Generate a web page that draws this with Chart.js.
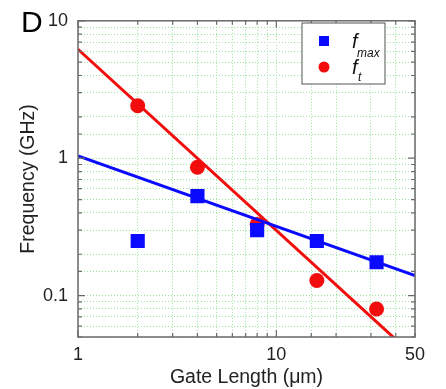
<!DOCTYPE html>
<html>
<head>
  <title>Frequency vs Gate Length</title>
  <script src="https://cdn.jsdelivr.net/npm/chart.js"></script>
  <style>
    body{
        margin:0px;
        padding:0px;
        background-color:white;
    }
    #wrap{
        width:446px;
        height:389px;
        position:relative;
    }
  </style>
</head>
<body>
<div id="wrap">
  <canvas id="chart" width="446" height="389"></canvas>
</div>
<script>
  // gate length (um)
  var gateLength = [2, 4, 8, 16, 32];
  // measured points (GHz)
  var fmax = [0.25, 0.53, 0.30, 0.25, 0.175];
  var ft = [2.41, 0.86, 0.33, 0.129, 0.080];
  // fitted lines, end points
  var fmaxFitX = [1, 50];
  var fmaxFitY = [1.04, 0.14];
  var ftFitX = [1, 40];
  var ftFitY = [6.2, 0.048];
  // axis labels shown
  var xLabels = [1, 10, 50];
  var yLabels = [0.1, 1, 10];

  var FONT = "'Liberation Sans', Arial, sans-serif";
  var BLUE = '#0a0aff';
  var RED = '#f20d0d';

  function pts(xs, ys){
    return xs.map(function(x, i){ return {x: x, y: ys[i]}; });
  }
  function isMajor(v, list){
    return list.some(function(l){ return Math.abs(l - v) < 1e-9 * l; });
  }

  // frame, inner ticks, letter and legend
  var decor = {
    id: 'decor',
    afterDraw: function(chart){
      var ctx = chart.ctx;
      var a = chart.chartArea;
      var xs = chart.scales.x, ys = chart.scales.y;
      ctx.save();
      ctx.strokeStyle = '#6a6a6a';
      ctx.lineWidth = 1.2;
      xs.ticks.forEach(function(t){
        var px = xs.getPixelForValue(t.value);
        var len = isMajor(t.value, [1, 10]) ? 7 : 4;
        ctx.beginPath();
        ctx.moveTo(px, a.bottom); ctx.lineTo(px, a.bottom - len);
        ctx.moveTo(px, a.top); ctx.lineTo(px, a.top + len);
        ctx.stroke();
      });
      ys.ticks.forEach(function(t){
        var py = ys.getPixelForValue(t.value);
        var len = isMajor(t.value, [0.1, 1, 10]) ? 7 : 4;
        ctx.beginPath();
        ctx.moveTo(a.left, py); ctx.lineTo(a.left + len, py);
        ctx.moveTo(a.right, py); ctx.lineTo(a.right - len, py);
        ctx.stroke();
      });
      ctx.lineWidth = 1.5;
      ctx.strokeRect(a.left, a.top, a.right - a.left, a.bottom - a.top);

      // panel letter
      ctx.fillStyle = '#000';
      ctx.font = '30px ' + FONT;
      ctx.textBaseline = 'alphabetic';
      ctx.fillText('D', 21, 32);

      // legend box
      ctx.fillStyle = '#fff';
      ctx.fillRect(302, 23, 83, 61);
      ctx.strokeStyle = '#555';
      ctx.lineWidth = 1;
      ctx.strokeRect(302, 23, 83, 61);
      ctx.fillStyle = BLUE;
      ctx.fillRect(319, 36, 10, 10);
      ctx.fillStyle = RED;
      ctx.beginPath();
      ctx.arc(324, 67, 5.5, 0, Math.PI * 2);
      ctx.fill();
      ctx.fillStyle = '#111';
      ctx.font = 'italic 20px ' + FONT;
      ctx.fillText('f', 352, 48);
      ctx.fillText('f', 352, 74);
      ctx.font = 'italic 12px ' + FONT;
      ctx.fillText('max', 357, 57);
      ctx.fillText('t', 358, 81);
      ctx.restore();
    }
  };

  var ctx = document.getElementById('chart').getContext('2d');
  var chart = new Chart(ctx, {
    type: 'scatter',
    data: {
      datasets: [{
        label: 'fmax fit',
        data: pts(fmaxFitX, fmaxFitY),
        showLine: true,
        borderColor: BLUE,
        borderWidth: 3,
        pointRadius: 0,
        fill: false
      }, {
        label: 'ft fit',
        data: pts(ftFitX, ftFitY),
        showLine: true,
        borderColor: RED,
        borderWidth: 3,
        pointRadius: 0,
        fill: false
      }, {
        label: 'fmax',
        data: pts(gateLength, fmax),
        pointStyle: 'rect',
        pointRadius: 10,
        backgroundColor: BLUE,
        borderColor: BLUE,
        borderWidth: 0
      }, {
        label: 'ft',
        data: pts(gateLength, ft),
        pointStyle: 'circle',
        pointRadius: 7.5,
        backgroundColor: RED,
        borderColor: RED,
        borderWidth: 0
      }]
    },
    options: {
      responsive: false,
      animation: false,
      maintainAspectRatio: false,
      devicePixelRatio: 1,
      layout: { padding: { left: 0, top: 15, right: 31, bottom: 0 } },
      plugins: {
        legend: { display: false },
        tooltip: { enabled: false }
      },
      scales: {
        x: {
          type: 'logarithmic',
          min: 1,
          max: 50,
          afterFit: function(s){ s.height = 52; },
          border: { display: false, dash: [1, 2] },
          grid: { color: '#9ce49c', lineWidth: 1, drawTicks: false },
          ticks: {
            autoSkip: false,
            maxRotation: 0,
            padding: 7,
            color: '#222',
            font: { family: FONT, size: 18 },
            callback: function(v){ return isMajor(v, xLabels) ? String(v) : ''; }
          },
          title: {
            display: true,
            text: 'Gate Length (\u03bcm)',
            color: '#222',
            font: { family: FONT, size: 19.5 },
            padding: { top: 0, bottom: 0 }
          }
        },
        y: {
          type: 'logarithmic',
          min: 0.05,
          max: 10,
          afterFit: function(s){ s.width = 78; },
          border: { display: false, dash: [1, 2] },
          grid: { color: '#9ce49c', lineWidth: 1, drawTicks: false },
          ticks: {
            autoSkip: false,
            padding: 10,
            color: '#222',
            font: { family: FONT, size: 18 },
            callback: function(v){ return isMajor(v, yLabels) ? String(v) : ''; }
          },
          title: {
            display: true,
            text: 'Frequency (GHz)',
            color: '#222',
            font: { family: FONT, size: 19.5 },
            padding: { top: 17, bottom: 0 }
          }
        }
      }
    },
    plugins: [decor]
  });
</script>
</body>
</html>
